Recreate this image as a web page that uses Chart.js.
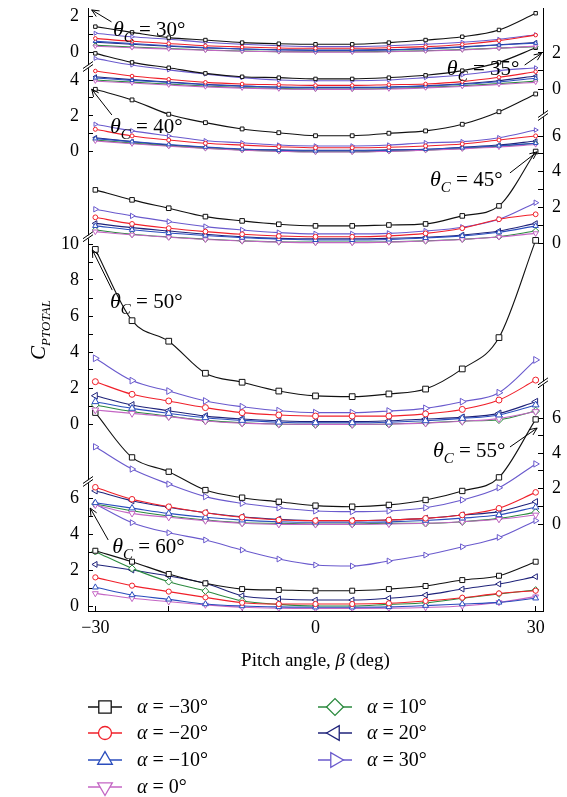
<!DOCTYPE html>
<html>
<head>
<meta charset="utf-8">
<script src="https://cdn.jsdelivr.net/npm/chart.js@4.4.0/dist/chart.umd.min.js"></script>
<style>
  html, body { margin: 0; padding: 0; background: #fff; }
  #wrap { width: 567px; height: 797px; }
</style>
</head>
<body>
<div id="wrap"><canvas id="cp" width="567" height="797"></canvas></div>
<script>
// pitch angle samples (deg)
var beta = [-30, -25, -20, -15, -10, -5, 0, 5, 10, 15, 20, 25, 30];
var alphas = [-30, -20, -10, 0, 10, 20, 30];
var xTicks = [-30, -20, -10, 0, 10, 20, 30];

// C_PTOTAL, one row per alpha (same order as alphas)
var tc30 = [
  [1.42, 1.11, 0.82, 0.69, 0.55, 0.49, 0.46, 0.46, 0.55, 0.69, 0.87, 1.24, 2.15],
  [0.78, 0.62, 0.50, 0.38, 0.31, 0.26, 0.24, 0.24, 0.27, 0.33, 0.45, 0.66, 0.96],
  [0.62, 0.50, 0.38, 0.28, 0.20, 0.15, 0.12, 0.12, 0.15, 0.21, 0.30, 0.42, 0.52],
  [0.35, 0.27, 0.20, 0.13, 0.08, 0.05, 0.03, 0.03, 0.05, 0.09, 0.15, 0.24, 0.36],
  [0.40, 0.31, 0.23, 0.15, 0.09, 0.06, 0.05, 0.05, 0.07, 0.11, 0.17, 0.25, 0.33],
  [0.57, 0.46, 0.35, 0.26, 0.20, 0.16, 0.15, 0.15, 0.17, 0.23, 0.32, 0.43, 0.56],
  [1.06, 0.87, 0.73, 0.57, 0.46, 0.38, 0.33, 0.33, 0.38, 0.46, 0.57, 0.73, 0.98]
];
var tc35 = [
  [1.98, 1.48, 1.18, 0.87, 0.68, 0.63, 0.56, 0.56, 0.63, 0.76, 1.02, 1.48, 2.29],
  [1.00, 0.72, 0.54, 0.37, 0.28, 0.24, 0.20, 0.20, 0.24, 0.28, 0.41, 0.65, 0.96],
  [0.62, 0.48, 0.36, 0.24, 0.16, 0.10, 0.07, 0.07, 0.10, 0.16, 0.26, 0.40, 0.60],
  [0.44, 0.33, 0.22, 0.12, 0.05, 0.00, -0.02, -0.02, 0.00, 0.06, 0.14, 0.25, 0.37],
  [0.50, 0.38, 0.27, 0.16, 0.08, 0.03, 0.00, 0.00, 0.03, 0.09, 0.18, 0.30, 0.44],
  [0.68, 0.52, 0.39, 0.26, 0.17, 0.11, 0.09, 0.09, 0.11, 0.18, 0.29, 0.46, 0.72],
  [1.70, 1.33, 1.06, 0.83, 0.63, 0.50, 0.46, 0.46, 0.50, 0.63, 0.78, 1.02, 1.18]
];
var tc40 = [
  [3.48, 2.89, 2.09, 1.62, 1.27, 1.06, 0.89, 0.89, 1.03, 1.16, 1.53, 2.23, 3.22],
  [1.25, 0.88, 0.65, 0.47, 0.37, 0.28, 0.22, 0.22, 0.25, 0.32, 0.43, 0.65, 0.88],
  [0.73, 0.56, 0.40, 0.26, 0.15, 0.08, 0.05, 0.05, 0.08, 0.14, 0.22, 0.33, 0.47],
  [0.60, 0.44, 0.30, 0.18, 0.08, 0.02, -0.02, -0.02, 0.02, 0.08, 0.16, 0.26, 0.40],
  [0.65, 0.48, 0.33, 0.20, 0.10, 0.03, 0.00, 0.00, 0.03, 0.09, 0.18, 0.30, 0.47],
  [0.78, 0.56, 0.37, 0.25, 0.13, 0.10, 0.08, 0.08, 0.10, 0.13, 0.25, 0.37, 0.60],
  [1.53, 1.16, 0.88, 0.61, 0.50, 0.37, 0.32, 0.32, 0.37, 0.50, 0.56, 0.78, 1.21]
];
var tc45 = [
  [2.98, 2.42, 1.95, 1.48, 1.24, 1.05, 0.96, 0.96, 1.01, 1.07, 1.52, 2.08, 5.13],
  [1.44, 1.07, 0.83, 0.64, 0.49, 0.39, 0.35, 0.35, 0.40, 0.54, 0.83, 1.33, 1.61],
  [0.96, 0.74, 0.56, 0.42, 0.30, 0.22, 0.17, 0.17, 0.20, 0.28, 0.40, 0.60, 0.96],
  [0.64, 0.46, 0.32, 0.20, 0.11, 0.05, 0.02, 0.02, 0.05, 0.11, 0.20, 0.34, 0.54],
  [0.73, 0.49, 0.34, 0.22, 0.12, 0.07, 0.05, 0.05, 0.07, 0.12, 0.21, 0.35, 0.67],
  [1.10, 0.86, 0.67, 0.49, 0.35, 0.26, 0.23, 0.23, 0.26, 0.32, 0.45, 0.67, 1.10],
  [1.89, 1.52, 1.20, 0.92, 0.73, 0.58, 0.51, 0.51, 0.54, 0.67, 0.88, 1.33, 2.26]
];
var tc50 = [
  [9.70, 5.74, 4.60, 2.82, 2.32, 1.83, 1.56, 1.52, 1.67, 1.94, 3.06, 4.80, 10.2],
  [2.35, 1.65, 1.28, 0.91, 0.63, 0.50, 0.44, 0.44, 0.44, 0.56, 0.81, 1.33, 2.44],
  [1.24, 0.87, 0.59, 0.35, 0.20, 0.10, 0.07, 0.07, 0.10, 0.18, 0.31, 0.50, 1.06],
  [0.78, 0.59, 0.41, 0.17, 0.05, 0.00, -0.02, -0.02, 0.00, 0.05, 0.15, 0.30, 0.69],
  [1.06, 0.69, 0.44, 0.20, 0.07, 0.00, -0.02, -0.02, 0.00, 0.07, 0.17, 0.24, 0.72],
  [1.57, 1.06, 0.74, 0.44, 0.28, 0.18, 0.13, 0.13, 0.18, 0.28, 0.37, 0.59, 1.24],
  [3.65, 2.41, 1.83, 1.28, 0.96, 0.74, 0.63, 0.63, 0.72, 0.87, 1.24, 1.74, 3.56]
];
var tc55 = [
  [6.30, 3.77, 2.96, 1.92, 1.49, 1.26, 1.04, 0.98, 1.08, 1.36, 1.87, 2.64, 5.92],
  [2.08, 1.40, 0.98, 0.64, 0.38, 0.23, 0.19, 0.19, 0.23, 0.32, 0.51, 0.89, 1.79],
  [1.20, 0.90, 0.60, 0.38, 0.22, 0.13, 0.10, 0.10, 0.12, 0.20, 0.33, 0.52, 0.95],
  [1.08, 0.60, 0.38, 0.19, 0.04, -0.02, -0.02, -0.02, 0.00, 0.04, 0.13, 0.27, 0.51],
  [1.13, 0.75, 0.45, 0.23, 0.07, 0.04, 0.00, 0.00, 0.04, 0.04, 0.13, 0.32, 0.66],
  [1.88, 1.32, 0.95, 0.64, 0.41, 0.27, 0.19, 0.19, 0.23, 0.32, 0.51, 0.70, 1.26],
  [4.37, 3.11, 2.26, 1.55, 1.17, 0.92, 0.74, 0.70, 0.74, 0.92, 1.36, 2.05, 3.40]
];
var tc60 = [
  [3.07, 2.46, 1.78, 1.26, 0.94, 0.89, 0.85, 0.85, 0.94, 1.11, 1.44, 1.68, 2.46],
  [1.59, 1.13, 0.80, 0.48, 0.18, 0.11, 0.11, 0.11, 0.15, 0.28, 0.46, 0.70, 0.85],
  [1.04, 0.61, 0.37, 0.11, 0.00, -0.05, -0.07, -0.07, -0.05, 0.02, 0.11, 0.20, 0.43],
  [0.70, 0.43, 0.24, 0.06, -0.07, -0.12, -0.13, -0.13, -0.12, -0.08, 0.00, 0.20, 0.52],
  [3.02, 2.09, 1.35, 0.83, 0.29, 0.09, 0.00, 0.00, 0.09, 0.18, 0.43, 0.67, 0.89],
  [2.31, 2.00, 1.67, 1.26, 0.57, 0.39, 0.33, 0.33, 0.43, 0.61, 0.94, 1.22, 1.63],
  [5.67, 4.63, 4.07, 3.67, 3.11, 2.61, 2.28, 2.22, 2.50, 2.83, 3.29, 3.81, 4.74]
];

// y tick values per panel
var ticks30 = [0, 1, 2];
var ticks35 = [0, 1, 2];
var ticks40 = [0, 1, 2, 3, 4];
var ticks45 = [0, 1, 2, 3, 4, 5, 6];
var ticks50 = [0, 1, 2, 3, 4, 5, 6, 7, 8, 9, 10];
var ticks55 = [0, 1, 2, 3, 4, 5, 6];
var ticks60 = [0, 1, 2, 3, 4, 5, 6];

// where each panel sits on the page (pixel of its lowest / highest tick)
var TOP = 8, BOTTOM = 611;
var panels = [
  { name: '30', rows: tc30, ticks: ticks30, side: 'left',  loPx: 52.7, hiPx: 16,  r: 1.8 },
  { name: '35', rows: tc35, ticks: ticks35, side: 'right', loPx: 89,   hiPx: 53,  r: 1.8 },
  { name: '40', rows: tc40, ticks: ticks40, side: 'left',  loPx: 151.7, hiPx: 80, r: 2.0 },
  { name: '45', rows: tc45, ticks: ticks45, side: 'right', loPx: 243,  hiPx: 136, r: 2.4 },
  { name: '50', rows: tc50, ticks: ticks50, side: 'left',  loPx: 424,  hiPx: 244, r: 3.0 },
  { name: '55', rows: tc55, ticks: ticks55, side: 'right', loPx: 524,  hiPx: 418, r: 2.8 },
  { name: '60', rows: tc60, ticks: ticks60, side: 'left',  loPx: 606,  hiPx: 498, r: 2.6 }
];

var colors = ['#111111', '#f0202a', '#2a4dbd', '#c466c4', '#2b8a3e', '#1f237a', '#6a5acd'];
var styles = ['rect', 'circle', 'triangle', 'triangle', 'rectRot', 'triangle', 'triangle'];
var rotations = [0, 0, 0, 180, 0, -90, 90];
var sizeFactor = [1.35, 1, 1.3, 1.3, 1.3, 1.3, 1.3];

var SERIF = "'Liberation Serif', 'Times New Roman', serif";

function minus(v) { return v < 0 ? '\u2212' + Math.abs(v) : String(v); }

// scales get no box size and no padding; labels may spill outside the box
function flatFit(s) {
  if (s.isHorizontal()) s.height = 0; else s.width = 0;
  s.paddingTop = s.paddingBottom = s.paddingLeft = s.paddingRight = 0;
  s._computeLabelArea = function () { return undefined; };
}

var datasets = [];
var scales = {
  x: {
    type: 'linear', min: -31, max: 31,
    afterFit: flatFit,
    afterBuildTicks: function (s) { s.ticks = xTicks.map(function (v) { return { value: v }; }); },
    grid: { drawOnChartArea: false, tickLength: -5, color: '#000', lineWidth: 1 },
    border: { color: '#000', width: 1 },
    ticks: {
      autoSkip: false, maxRotation: 0, padding: 11, color: '#000',
      font: { family: SERIF, size: 18 },
      callback: function (v) { return v % 30 === 0 ? minus(v) : ''; }
    }
  }
};

panels.forEach(function (p) {
  var lo = p.ticks[0], hi = p.ticks[p.ticks.length - 1];
  var unit = (p.loPx - p.hiPx) / (hi - lo);
  var tickVals = p.ticks;
  scales['y' + p.name] = {
    type: 'linear', position: p.side,
    min: lo - (BOTTOM - p.loPx) / unit,
    max: hi + (p.hiPx - TOP) / unit,
    afterFit: flatFit,
    afterBuildTicks: function (s) { s.ticks = tickVals.map(function (v) { return { value: v }; }); },
    grid: { drawOnChartArea: false, tickLength: -5, color: '#000', lineWidth: 1 },
    border: { color: '#000', width: 1 },
    ticks: {
      autoSkip: false, padding: 14, color: '#000',
      font: { family: SERIF, size: 18 },
      callback: function (v) { return v % 2 === 0 ? String(v) : ''; }
    }
  };
  p.rows.forEach(function (row, k) {
    datasets.push({
      label: '\u03b8C = ' + p.name + '\u00b0, \u03b1 = ' + minus(alphas[k]) + '\u00b0',
      yAxisID: 'y' + p.name,
      data: beta.map(function (b, i) { return { x: b, y: row[i] }; }),
      borderColor: colors[k],
      borderWidth: 1.1,
      pointBorderColor: colors[k],
      pointBackgroundColor: '#fff',
      pointBorderWidth: 1,
      pointStyle: styles[k],
      pointRotation: rotations[k],
      pointRadius: p.r * sizeFactor[k],
      cubicInterpolationMode: 'monotone',
      fill: false
    });
  });
});

// labels with leader arrows, in each panel's own data units
var notes = [
  { panel: '30', text: '30', x: -27.6, y: 1.30, from: [-27.8, 1.68], to: [-30.5, 2.33] },
  { panel: '35', text: '35', x: 17.9,  y: 1.15, from: [28.5, 1.33],  to: [30.8, 1.98] },
  { panel: '40', text: '40', x: -28.0, y: 1.45, from: [-27.75, 2.05], to: [-30.5, 3.49] },
  { panel: '45', text: '45', x: 15.6,  y: 3.6,  from: [26.5, 3.93],  to: [30.2, 5.11] },
  { panel: '50', text: '50', x: -28.0, y: 6.85, from: [-27.7, 7.44], to: [-30.4, 9.67] },
  { panel: '55', text: '55', x: 16.0,  y: 4.19, from: [26.5, 4.36],  to: [30.2, 5.43] },
  { panel: '60', text: '60', x: -27.7, y: 3.35, from: [-28.25, 3.67], to: [-30.7, 5.44] }
];
// axis breaks: [panel, value on that panel's scale]
var leftBreaks = [['30', -0.78], ['40', -4.77], ['50', -3.22]];
var rightBreaks = [['35', -1.5], ['45', -7.87]];

function drawMarker(ctx, style, rot, r, x, y, color) {
  ctx.save();
  ctx.strokeStyle = color;
  ctx.fillStyle = '#fff';
  ctx.lineWidth = 1.3;
  Chart.helpers.drawPoint(ctx, { pointStyle: style, rotation: rot, radius: r, borderWidth: 1.3 }, x, y);
  ctx.restore();
}

function drawBreak(ctx, x, y) {
  ctx.save();
  ctx.fillStyle = '#fff';
  ctx.beginPath();
  ctx.moveTo(x - 4, y + 1.5);
  ctx.lineTo(x + 4, y - 4.5);
  ctx.lineTo(x + 4, y - 1.5);
  ctx.lineTo(x - 4, y + 4.5);
  ctx.closePath();
  ctx.fill();
  ctx.strokeStyle = '#000';
  ctx.lineWidth = 1;
  [0, 3].forEach(function (d) {
    ctx.beginPath();
    ctx.moveTo(x - 5, y + 1.5 + d);
    ctx.lineTo(x + 5, y - 5.5 + d);
    ctx.stroke();
  });
  ctx.restore();
}

function drawArrow(ctx, x0, y0, x1, y1) {
  var a = Math.atan2(y1 - y0, x1 - x0), L = 8, s = 0.42;
  ctx.beginPath();
  ctx.moveTo(x0, y0);
  ctx.lineTo(x1, y1);
  ctx.moveTo(x1 - L * Math.cos(a - s), y1 - L * Math.sin(a - s));
  ctx.lineTo(x1, y1);
  ctx.lineTo(x1 - L * Math.cos(a + s), y1 - L * Math.sin(a + s));
  ctx.stroke();
}

function drawTheta(ctx, x, yc, val) {
  var base = yc + 7;
  ctx.textAlign = 'left';
  ctx.textBaseline = 'alphabetic';
  ctx.font = 'italic 22px ' + SERIF;
  ctx.fillText('\u03b8', x, base);
  var w = ctx.measureText('\u03b8').width;
  ctx.font = 'italic 15px ' + SERIF;
  ctx.fillText('C', x + w, base + 6);
  var wc = ctx.measureText('C').width;
  ctx.font = '21px ' + SERIF;
  ctx.fillText(' = ' + val + '\u00b0', x + w + wc, base);
}

var decor = {
  id: 'decor',
  afterDraw: function (chart) {
    var ctx = chart.ctx, area = chart.chartArea, xs = chart.scales.x;
    ctx.save();
    leftBreaks.forEach(function (b) { drawBreak(ctx, area.left, chart.scales['y' + b[0]].getPixelForValue(b[1])); });
    rightBreaks.forEach(function (b) { drawBreak(ctx, area.right, chart.scales['y' + b[0]].getPixelForValue(b[1])); });

    ctx.fillStyle = '#000';
    ctx.strokeStyle = '#000';
    ctx.lineWidth = 1;
    notes.forEach(function (n) {
      var ys = chart.scales['y' + n.panel];
      drawArrow(ctx, xs.getPixelForValue(n.from[0]), ys.getPixelForValue(n.from[1]),
        xs.getPixelForValue(n.to[0]), ys.getPixelForValue(n.to[1]));
      drawTheta(ctx, xs.getPixelForValue(n.x), ys.getPixelForValue(n.y), n.text);
    });

    // x title
    ctx.textBaseline = 'alphabetic';
    var parts = [['Pitch angle, ', ''], ['\u03b2', 'italic '], [' (deg)', '']];
    var total = 0;
    parts.forEach(function (p) { ctx.font = p[1] + '19px ' + SERIF; total += ctx.measureText(p[0]).width; });
    var tx = (area.left + area.right) / 2 - total / 2;
    parts.forEach(function (p) {
      ctx.font = p[1] + '19px ' + SERIF;
      ctx.textAlign = 'left';
      ctx.fillText(p[0], tx, 666);
      tx += ctx.measureText(p[0]).width;
    });

    // y title
    ctx.save();
    ctx.translate(38, 330);
    ctx.rotate(-Math.PI / 2);
    ctx.font = 'italic 21px ' + SERIF;
    var wC = ctx.measureText('C').width;
    ctx.font = 'italic 13px ' + SERIF;
    var wS = ctx.measureText('PTOTAL').width;
    var sx = -(wC + wS) / 2;
    ctx.font = 'italic 21px ' + SERIF;
    ctx.fillText('C', sx, 7);
    ctx.font = 'italic 13px ' + SERIF;
    ctx.fillText('PTOTAL', sx + wC, 12);
    ctx.restore();

    // legend
    var cols = [88, 318], rowY = [707, 733, 760, 787];
    alphas.forEach(function (a, k) {
      var c = k < 4 ? 0 : 1, rI = k < 4 ? k : k - 4;
      var x0 = cols[c], y = rowY[rI];
      ctx.strokeStyle = colors[k];
      ctx.lineWidth = 1.3;
      ctx.beginPath();
      ctx.moveTo(x0, y);
      ctx.lineTo(x0 + 34, y);
      ctx.stroke();
      drawMarker(ctx, styles[k], rotations[k], 6.5 * sizeFactor[k], x0 + 17, y, colors[k]);
      ctx.fillStyle = '#000';
      ctx.textAlign = 'left';
      ctx.textBaseline = 'middle';
      var lx = x0 + 49;
      ctx.font = 'italic 20px ' + SERIF;
      ctx.fillText('\u03b1', lx, y + 1);
      lx += ctx.measureText('\u03b1').width;
      ctx.font = '20px ' + SERIF;
      ctx.fillText(' = ' + minus(a) + '\u00b0', lx, y + 1);
    });
    ctx.restore();
  }
};

new Chart(document.getElementById('cp'), {
  type: 'line',
  data: { datasets: datasets },
  options: {
    responsive: false,
    animation: false,
    events: [],
    layout: { autoPadding: false, padding: { left: 88, right: 24, top: TOP, bottom: 797 - BOTTOM } },
    plugins: { legend: { display: false }, tooltip: { enabled: false } },
    scales: scales
  },
  plugins: [decor]
});
</script>
</body>
</html>
